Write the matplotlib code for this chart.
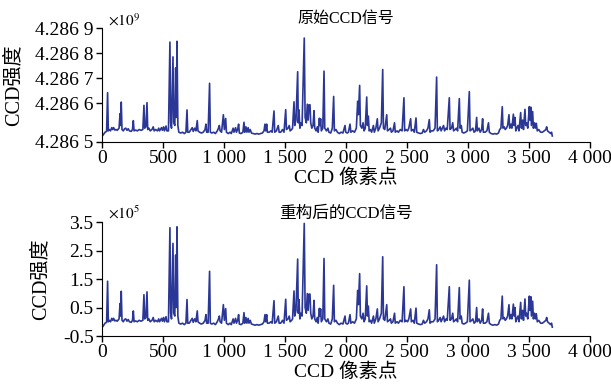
import numpy as np
import matplotlib.pyplot as plt

plt.rcParams['font.family'] = ['Liberation Serif', 'Noto Sans CJK SC']
plt.rcParams['mathtext.fontset'] = 'stix'

# reconstructed signal, polyline vertices (y in 1e5)
sig_x = [0, 10, 25, 38, 46, 52, 60, 70, 80, 88, 95, 105, 115, 125, 140, 148, 152, 158, 164, 175,
         185, 195, 205, 215, 225, 240, 250, 257, 263, 275, 290, 305, 320, 335, 344, 350, 360, 369, 375, 385,
         395, 410, 420, 428, 440, 455, 465, 472, 488, 495, 505, 512, 525, 532, 545, 557, 563, 570, 582, 588,
         597, 604, 609, 615, 622, 630, 645, 660, 675, 688, 697, 703, 715, 730, 740, 748, 760, 770, 781, 787,
         800, 815, 830, 845, 852, 858, 870, 882, 888, 900, 915, 930, 945, 955, 962, 968, 980, 995, 1003, 1014,
         1020, 1035, 1050, 1060, 1075, 1082, 1095, 1102, 1112, 1120, 1126, 1140, 1155, 1164, 1170, 1180, 1188, 1198, 1205, 1215,
         1225, 1240, 1255, 1270, 1285, 1300, 1315, 1328, 1336, 1342, 1350, 1356, 1370, 1385, 1395, 1410, 1416, 1430, 1445, 1452,
         1465, 1480, 1492, 1506, 1512, 1525, 1535, 1542, 1555, 1562, 1574, 1580, 1590, 1604, 1609, 1615, 1622, 1630, 1640, 1658,
         1665, 1675, 1683, 1690, 1697, 1705, 1711, 1720, 1730, 1738, 1744, 1755, 1765, 1772, 1782, 1787, 1792, 1798, 1810, 1820,
         1826, 1840, 1852, 1860, 1875, 1888, 1899, 1905, 1918, 1930, 1945, 1960, 1975, 1992, 1998, 2010, 2020, 2033, 2040, 2055,
         2070, 2085, 2096, 2102, 2112, 2118, 2130, 2140, 2148, 2158, 2170, 2176, 2183, 2190, 2200, 2210, 2225, 2232, 2245, 2257,
         2263, 2275, 2290, 2301, 2307, 2318, 2334, 2340, 2355, 2365, 2372, 2385, 2398, 2404, 2418, 2430, 2445, 2460, 2475, 2481,
         2492, 2505, 2515, 2530, 2536, 2550, 2560, 2574, 2580, 2595, 2610, 2625, 2635, 2645, 2660, 2672, 2683, 2689, 2700, 2715,
         2730, 2743, 2749, 2760, 2772, 2780, 2790, 2800, 2808, 2820, 2830, 2847, 2853, 2865, 2875, 2882, 2895, 2905, 2915, 2929,
         2935, 2945, 2952, 2965, 2980, 2995, 3011, 3017, 3030, 3040, 3050, 3062, 3071, 3077, 3090, 3100, 3112, 3120, 3126, 3140,
         3155, 3168, 3175, 3190, 3205, 3220, 3235, 3250, 3260, 3270, 3281, 3287, 3297, 3305, 3315, 3325, 3336, 3342, 3352, 3360,
         3372, 3378, 3385, 3392, 3400, 3410, 3418, 3432, 3438, 3448, 3455, 3467, 3473, 3480, 3490, 3503, 3508, 3515, 3520, 3530,
         3536, 3545, 3552, 3560, 3568, 3580, 3595, 3610, 3625, 3638, 3645, 3652, 3665, 3678, 3685, 3691]
sig_y = [-0.2, -0.15, -0.05, -0.02, 1.42, 0.0, 0.05, 0.0, 0.12, 0.05, 0.12, 0.03, 0.05, 0.02, 0.1, 0.64, 0.2, 1.07, 0.05, 0.0,
         0.08, 0.1, 0.02, 0.08, 0.0, -0.02, 0.05, 0.38, 0.0, 0.03, 0.0, 0.05, 0.02, 0.05, 0.95, 0.1, 0.15, 1.05, 0.05, 0.1,
         0.0, 0.05, 0.15, 0.0, 0.05, 0.0, 0.1, 0.0, 0.12, 0.02, 0.15, 0.0, 0.18, 0.0, 0.0, 3.3, 0.3, 0.1, 2.75, 0.3,
         0.2, 2.34, 0.5, 3.33, 0.2, -0.05, -0.08, -0.05, -0.1, -0.05, 0.78, -0.05, -0.05, 0.05, 0.12, -0.02, 0.1, 0.0, 0.38, 0.0,
         -0.05, -0.08, -0.05, 0.05, 0.25, -0.05, -0.05, 1.77, -0.05, -0.08, -0.05, -0.1, 0.0, 0.1, 0.2, 0.0, -0.05, 0.6, 0.05, 0.46,
         -0.05, -0.1, -0.05, -0.1, 0.1, -0.05, 0.12, -0.05, 0.05, 0.25, -0.08, -0.1, -0.05, 0.32, -0.05, 0.15, -0.05, 0.12, -0.05, 0.05,
         -0.08, -0.1, -0.12, -0.1, -0.12, -0.1, -0.08, 0.0, 0.25, 0.0, 0.25, -0.05, -0.05, 0.0, -0.05, 0.74, -0.05, 0.0, 0.2, -0.05,
         -0.05, 0.05, -0.05, 0.79, 0.05, 0.1, 0.2, 0.0, 0.05, 0.1, 1.08, 0.2, 0.4, 2.2, 0.3, 0.78, 0.1, 0.3, 0.2, 3.45,
         0.5, 0.3, 0.99, 0.4, 0.97, 0.97, 0.3, 0.1, 0.2, 0.75, 0.1, 0.0, 0.15, -0.05, 0.47, 0.2, 0.45, 0.0, 0.1, 2.22,
         0.1, 0.0, 0.1, -0.05, -0.08, 0.1, 1.28, 0.0, 0.05, -0.05, -0.1, -0.05, -0.08, 0.2, -0.05, -0.08, -0.05, 0.25, -0.05, 0.0,
         -0.05, 0.1, 1.1, 0.6, 1.69, 0.2, 0.1, 0.3, 0.0, 0.1, 1.26, 0.2, 0.55, 0.0, 0.05, -0.05, 0.2, -0.05, 0.1, 0.45,
         0.0, 0.1, 0.3, 2.28, 0.1, 0.05, 0.6, 0.0, 0.05, 0.1, -0.05, 0.0, 0.3, -0.05, 0.0, -0.05, 0.05, 0.0, 1.23, 0.0,
         0.05, 0.0, 0.1, 0.45, 0.0, 0.05, -0.05, 0.48, -0.05, -0.08, -0.1, -0.08, 0.05, -0.05, 0.0, 0.1, 0.42, -0.05, 0.0, 0.0,
         0.1, 2.0, 0.0, 0.05, 0.15, 0.0, 0.1, 0.2, 0.0, 0.1, 0.05, 1.23, 0.05, 0.1, 0.3, 0.0, 0.05, 0.1, 0.0, 1.2,
         0.1, 0.2, -0.05, -0.08, -0.05, 0.0, 1.46, 0.0, 0.05, 0.1, -0.05, 0.0, 0.5, 0.0, 0.1, -0.05, 0.05, 0.45, -0.05, -0.05,
         0.0, 0.3, -0.05, -0.1, -0.12, -0.1, -0.12, -0.08, 0.05, 0.1, 0.9, 0.1, 0.15, 0.05, 0.1, 0.2, 0.6, 0.1, 0.25, 0.1,
         0.62, 0.2, 0.5, 0.0, 0.1, 0.2, 0.0, 0.68, 0.1, 0.4, 0.05, 0.8, 0.2, 0.3, 0.1, 0.9, 0.4, 0.88, 0.2, 0.72,
         0.1, 0.3, 0.1, 0.28, 0.0, 0.05, -0.05, -0.05, 0.0, 0.05, 0.15, 0.0, -0.05, -0.1, -0.05, -0.19]

# the original signal is the same trace sitting on a DC level
raw_base = 4.28649   # x1e9
raw_gain = 1.075
raw_y = [raw_base + raw_gain * v * 1e-4 for v in sig_y]

xticks = [0, 500, 1000, 1500, 2000, 2500, 3000, 3500, 4000]
xlabels = ['0', '500', '1 000', '1 500', '2 000', '2 500', '3 000', '3 500', '4 000']
top_ticks = [4.2864467, 4.2866, 4.2867, 4.2868, 4.2869]
top_labels = ['4.286 5', '4.286 6', '4.286 7', '4.286 8', '4.286 9']
bot_ticks = [-0.5, 0.5, 1.5, 2.5, 3.5]
bot_labels = ['-0.5', '0.5', '1.5', '2.5', '3.5']

color = '#2B3796'

fig = plt.figure(figsize=(6.11, 3.88), dpi=100)
ax1 = fig.add_axes([0.1669, 0.6348, 0.7987, 0.2923])
ax2 = fig.add_axes([0.1669, 0.134, 0.7987, 0.2938])

ax1.plot(sig_x, raw_y, color=color, lw=1.2)
ax1.set_ylim(top_ticks[0], top_ticks[-1])
ax1.set_yticks(top_ticks)
ax1.set_yticklabels(top_labels)
ax1.set_title('原始CCD信号', fontsize=11.5, pad=4)
ax1.text(0.012, 1.0, r'$\times 10^{9}$', transform=ax1.transAxes, fontsize=11, va='bottom')

ax2.plot(sig_x, sig_y, color=color, lw=1.2)
ax2.set_ylim(-0.5, 3.5)
ax2.set_yticks(bot_ticks)
ax2.set_yticklabels(bot_labels)
ax2.set_title('重构后的CCD信号', fontsize=12, pad=3)
ax2.text(0.012, 1.0, r'$\times 10^{5}$', transform=ax2.transAxes, fontsize=11, va='bottom')

for ax in (ax1, ax2):
    ax.set_xlim(0, 4000)
    ax.set_xticks(xticks)
    ax.set_xticklabels(xlabels)
    ax.spines['top'].set_visible(False)
    ax.spines['right'].set_visible(False)
    ax.tick_params(direction='out', length=4, width=1, labelsize=14, pad=2)
    ax.set_xlabel('CCD 像素点', fontsize=14, labelpad=1)
    ax.set_ylabel('CCD强度', fontsize=14.5)

ax1.yaxis.set_label_coords(-0.161, 0.5)
ax2.yaxis.set_label_coords(-0.105, 0.5)

fig.savefig('out.png', dpi=100)
